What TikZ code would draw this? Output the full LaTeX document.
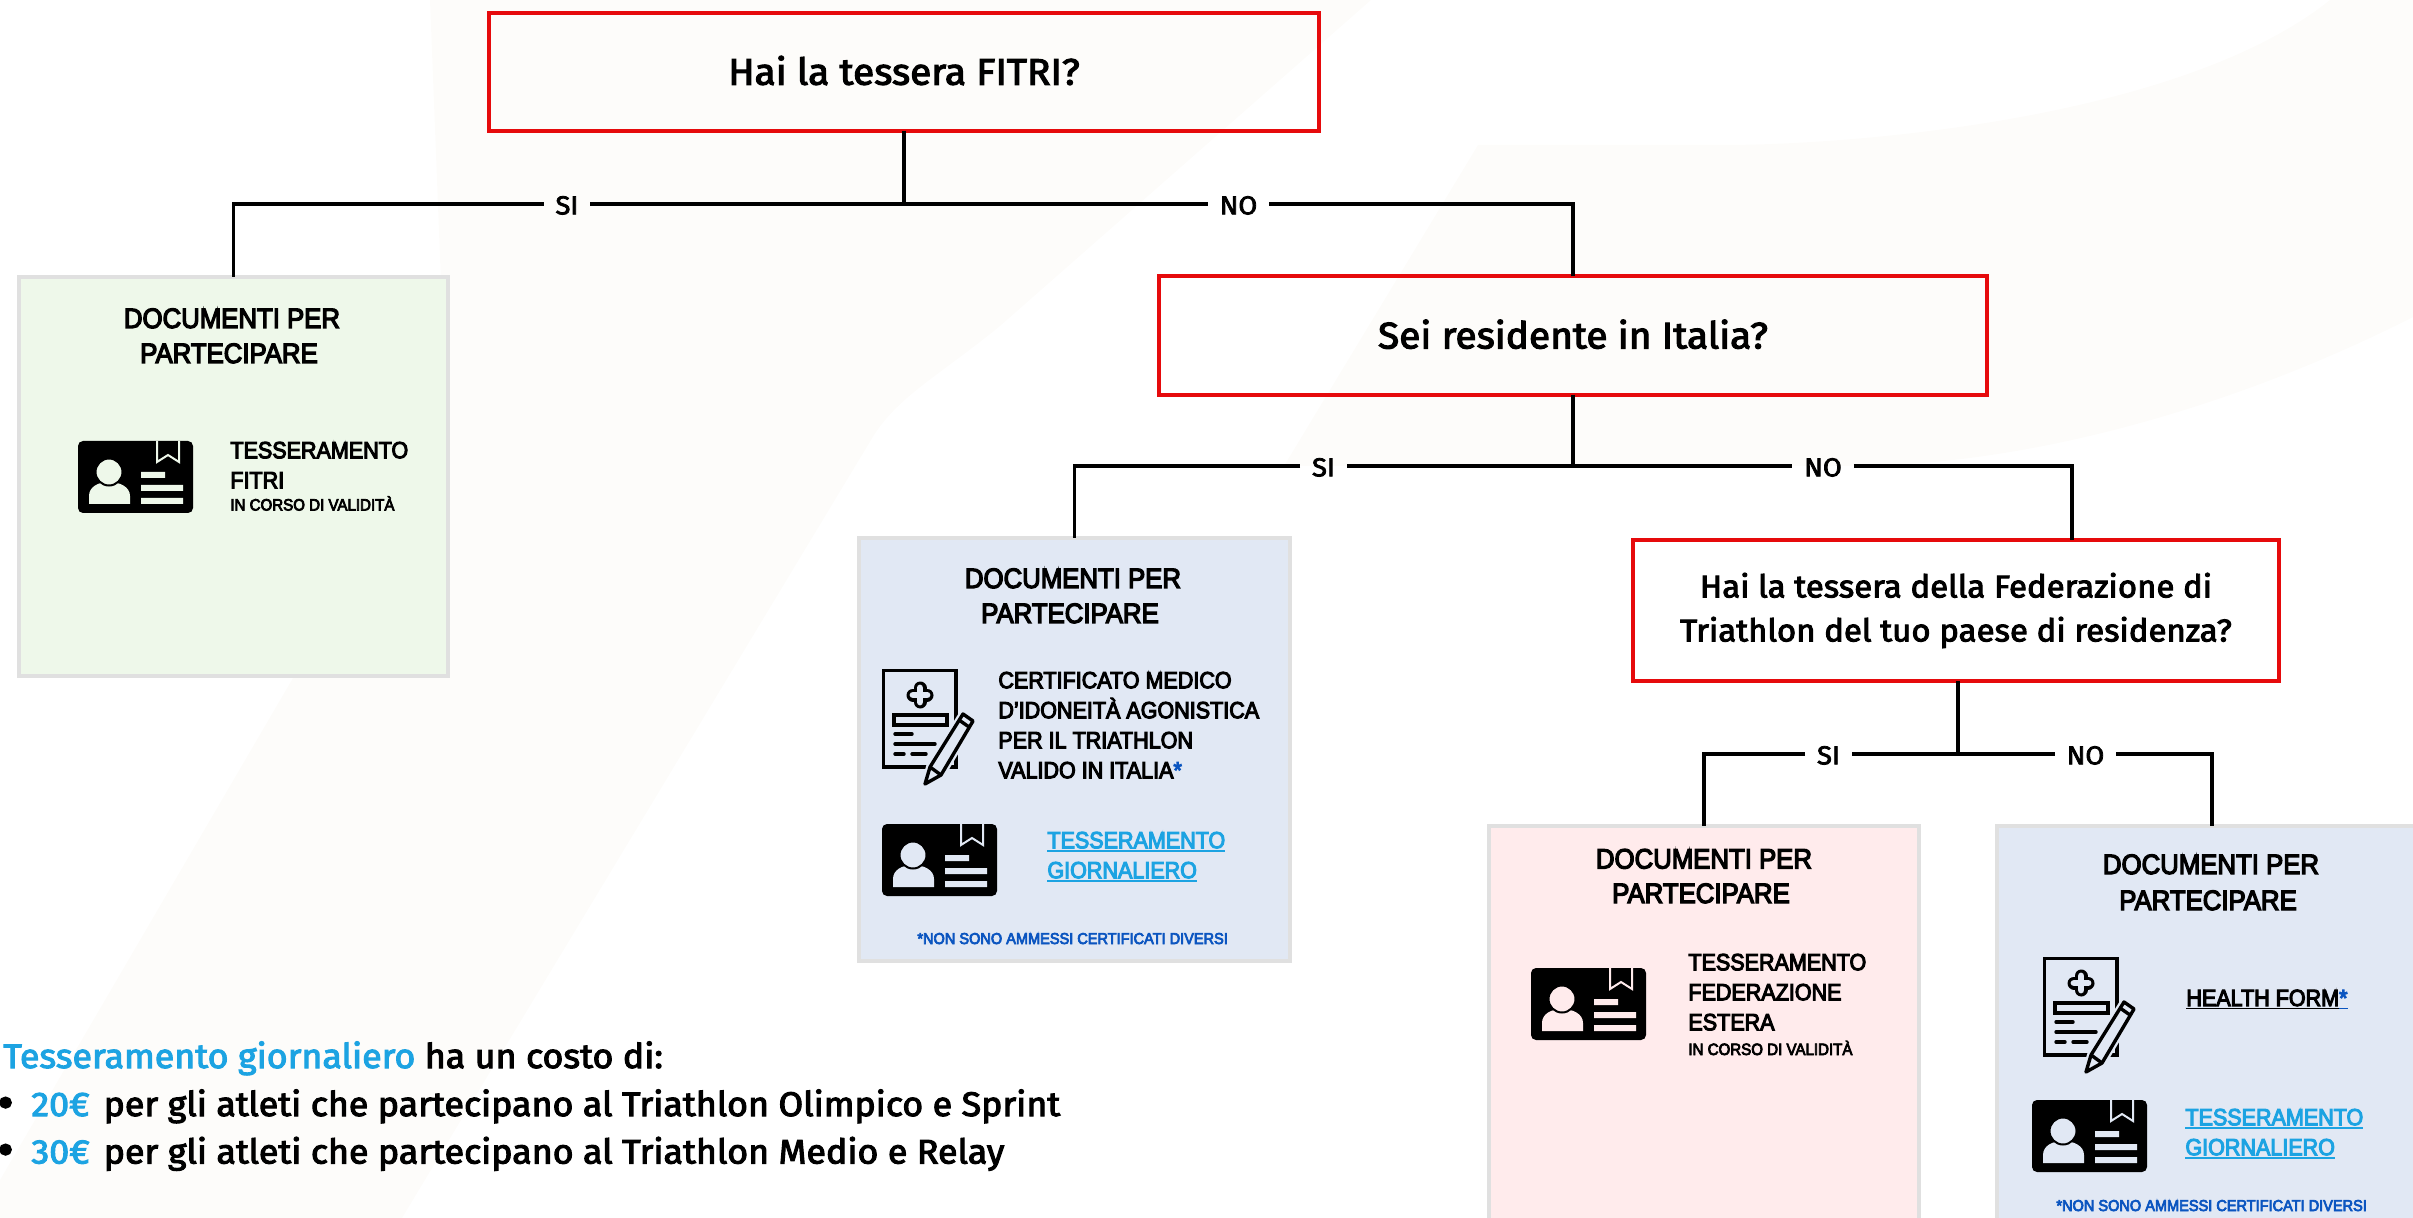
\documentclass[tikz,border=0pt]{standalone}
\usepackage{fontspec}
\setmainfont{Liberation Sans}
\newfontfamily\qfont[FakeBold=3,FakeStretch=1.05]{Fira Sans}
\newfontfamily\tfont[FakeBold=4.5,FakeStretch=0.92]{Liberation Sans}
\definecolor{tint}{HTML}{FDFCFA}
\definecolor{redb}{HTML}{E60A0C}
\definecolor{grayb}{HTML}{E0E0E0}
\definecolor{greenf}{HTML}{EEF8EA}
\definecolor{bluef}{HTML}{E1E8F4}
\definecolor{pinkf}{HTML}{FFEBEC}
\definecolor{sky}{HTML}{1CA3E2}
\definecolor{star}{HTML}{0B55C0}
\newcommand\ulx[1]{\setbox0\hbox{#1}\leavevmode\rlap{\rule[-1.7pt]{\wd0}{0.8pt}}\box0}
\newcommand\lowlab[1]{\raisebox{-0.7pt}[\height][\depth]{#1}}
\newcommand\uptxt[1]{\raisebox{0.75pt}[\height][\depth]{#1}}
\tikzset{
  qbox/.style={draw=redb,line width=2pt,rectangle,outer sep=0pt,inner sep=0pt,align=center},
  qbig/.style={font=\qfont\fontsize{18.5}{22}\selectfont},
  qsmall/.style={font=\qfont\fontsize{15.7}{22}\selectfont},
  docbox/.style={draw=grayb,line width=2.2pt,rectangle,outer sep=0pt,inner sep=0pt,minimum width=215pt},
  conn/.style={draw=black,line width=1.7pt,line join=miter},
  lab/.style={font=\qfont\fontsize{13}{15}\selectfont,inner ysep=0pt,inner xsep=6pt,outer sep=0pt},
  dtitle/.style={font=\tfont\fontsize{14}{17.5}\selectfont,anchor=base,inner sep=0pt},
  dtext/.style={font=\tfont\fontsize{11.7}{15}\selectfont,anchor=north west,inner sep=0pt,align=left},
  dsub/.style={font=\tfont\fontsize{8.2}{9}\selectfont,anchor=base west,inner sep=0pt},
  dnote/.style={font=\tfont\fontsize{7.9}{9}\selectfont,anchor=base west,inner sep=0pt,text=star},
  dlink/.style={dtext,text=sky},
  bodyt/.style={font=\qfont\fontsize{17.05}{21}\selectfont,anchor=base west,inner sep=0pt},
  bult/.style={font=\qfont\fontsize{24}{24}\selectfont,anchor=base west,inner sep=0pt},
  pics/card/.style={code={
    \fill[black,rounded corners=2.5pt] (0,0) rectangle (115,72);
    \draw[#1,line width=1pt] (79,0) -- (79,21) -- (90,14) -- (101,21) -- (101,0);
    \fill[#1] (11,63) -- (11,55) .. controls (11,46) and (20,41) .. (31,41) .. controls (42,41) and (52,46) .. (52,55) -- (52,63) -- cycle;
    \draw[black,fill=#1,line width=1pt] (31,31) circle [radius=13.5];
    \fill[#1] (63,31) rectangle (87,37) (63,44) rectangle (105,50) (63,57) rectangle (105,63);
  }},
  pics/medform/.style={code={
    \draw[black,line width=1.7pt] (1.5,1.5) rectangle (74,98);
    \draw[black,line width=6.5pt,line cap=round] (38,19) -- (38,33) (31,26) -- (45,26);
    \draw[#1,line width=3.4pt,line cap=round] (38,19) -- (38,33) (31,26) -- (45,26);
    \draw[black,line width=1.7pt] (12,46) rectangle (65,56);
    \draw[black,line width=1.7pt,line cap=round] (13,65) -- (30,65) (13,75) -- (53,75) (13,85) -- (22,85) (30,85) -- (44,85);
    \draw[#1,line width=4pt,fill=#1,line join=round] (81,45) -- (91,52) -- (59,106) -- (43,115) -- (48,98) -- cycle;
    \draw[black,line width=1.7pt,line join=round] (81,45) -- (91,52) -- (59,106) -- (43,115) -- (48,98) -- cycle;
    \draw[black,line width=1.7pt] (77,51) -- (87,58) (48,98) -- (59,106);
  }}
}
\begin{document}
\begin{tikzpicture}[x=0.5pt,y=-0.5pt]
\useasboundingbox (0,0) rectangle (2413,1218);
\clip (0,0) rectangle (2413,1218);
% faint background shapes
\fill[tint] (430,0) -- (1371,0) -- (1000,326) .. controls (940,375) and (900,395) .. (874,435) -- (402,1218) -- (0,1218) -- (0,1180) -- (293,678) -- (447,437) -- cycle;
\fill[tint] (1478,145) -- (1723,145) .. controls (1850,145) and (2180,120) .. (2330,0) -- (2413,0) -- (2413,317) .. controls (2250,400) and (2040,466) .. (1850,466) -- (1284,466) -- cycle;

% decision boxes
\node[qbox,qbig,minimum width=415pt,minimum height=59pt] (q1) at (904,72) {\uptxt{Hai la tessera FITRI?}};
\node[qbox,qbig,minimum width=414pt,minimum height=59.25pt] (q2) at (1573,335.75) {\uptxt{Sei residente in Italia?}};
\node[qbox,qsmall,minimum width=323pt,minimum height=70.5pt] (q3) at (1956,610.5) {Hai la tessera della Federazione di\\Triathlon del tuo paese di residenza?};

% document boxes
\node[docbox,fill=greenf,minimum width=214.5pt,minimum height=199.5pt] (green) at (233.5,476.5) {};
\node[docbox,fill=bluef,minimum width=215.5pt,minimum height=211.5pt] (blueA) at (1074.5,749.5) {};
\node[docbox,fill=pinkf,minimum height=207pt] (pink) at (1704,1033) {};
\node[docbox,fill=bluef,minimum height=207pt] (blueB) at (2212,1033) {};

% branch labels
\node[lab] (si1) at (567,204) {\lowlab{SI}};
\node[lab] (no1) at (1238.5,204) {\lowlab{NO}};
\node[lab] (si2) at (1323.5,466) {\lowlab{SI}};
\node[lab] (no2) at (1823,466) {\lowlab{NO}};
\node[lab] (si3) at (1828.5,754) {\lowlab{SI}};
\node[lab] (no3) at (2085.5,754) {\lowlab{NO}};
\coordinate (q3in) at (2072,540);
\coordinate (q3out) at (1958,681);

% connectors
\draw[conn] (q1.south) |- (si1.east);
\draw[conn] (si1.west) -| (green.north);
\draw[conn] (q1.south) |- (no1.west);
\draw[conn] (no1.east) -| (q2.north);
\draw[conn] (q2.south) |- (si2.east);
\draw[conn] (si2.west) -| (blueA.north);
\draw[conn] (q2.south) |- (no2.west);
\draw[conn] (no2.east) -| (q3in);
\draw[conn] (q3out) |- (si3.east);
\draw[conn] (si3.west) -| (pink.north);
\draw[conn] (q3out) |- (no3.west);
\draw[conn] (no3.east) -| (blueB.north);

% green box contents
\node[dtitle] (tGa) at (232,328) {DOCUMENTI PER};
\node[dtitle] (tGb) at (229,363) {PARTECIPARE};
\pic (cardG) at (78,441) {card=greenf};
\node[dtext] (txtG) at (230,441.5) {TESSERAMENTO\\FITRI};
\node[dsub] (subG) at (230,510.5) {IN CORSO DI VALIDITÀ};

% first blue box contents
\node[dtitle] (tAa) at (1073,588) {DOCUMENTI PER};
\node[dtitle] (tAb) at (1070,623) {PARTECIPARE};
\pic (formA) at (882,669) {medform=bluef};
\node[dtext] (txtA) at (998,671.5) {CERTIFICATO MEDICO\\D’IDONEITÀ AGONISTICA\\PER IL TRIATHLON\\VALIDO IN ITALIA{\color{star}*}};
\pic (cardA) at (882,824) {card=bluef};
\node[dlink] (linkA) at (1047,831.5) {\ulx{TESSERAMENTO}\\\ulx{GIORNALIERO}};
\node[dnote] (noteA) at (917,944) {*NON SONO AMMESSI CERTIFICATI DIVERSI};

% pink box contents
\node[dtitle] (tPa) at (1704,868.5) {DOCUMENTI PER};
\node[dtitle] (tPb) at (1701,903) {PARTECIPARE};
\pic (cardP) at (1531,968) {card=pinkf};
\node[dtext] (txtP) at (1688,953.5) {TESSERAMENTO\\FEDERAZIONE\\ESTERA};
\node[dsub] (subP) at (1688,1055) {IN CORSO DI VALIDITÀ};

% second blue box contents
\node[dtitle] (tBa) at (2211,874) {DOCUMENTI PER};
\node[dtitle] (tBb) at (2208,910) {PARTECIPARE};
\pic (formB) at (2043,957) {medform=bluef};
\node[dtext,anchor=base west] (healthB) at (2186,1006) {\ulx{HEALTH FORM}{\color{star}\ulx{*}}};
\pic (cardB) at (2032,1100) {card=bluef};
\node[dlink] (linkB) at (2185,1108.5) {\ulx{TESSERAMENTO}\\\ulx{GIORNALIERO}};
\node[dnote] (noteB) at (2056,1211) {*NON SONO AMMESSI CERTIFICATI DIVERSI};

% cost note
\node[bodyt] (cost) at (3,1068) {{\color{sky}Tesseramento giornaliero} ha un costo di:};
\node[bult] (bulA) at (-3,1119) {•};
\node[bodyt] (costA) at (31,1116) {{\color{sky}20€}\hspace{2.2pt} per gli atleti che partecipano al Triathlon Olimpico e Sprint};
\node[bult] (bulB) at (-3,1166) {•};
\node[bodyt] (costB) at (31,1163.5) {{\color{sky}30€}\hspace{2.2pt} per gli atleti che partecipano al Triathlon Medio e Relay};
\end{tikzpicture}
\end{document}
